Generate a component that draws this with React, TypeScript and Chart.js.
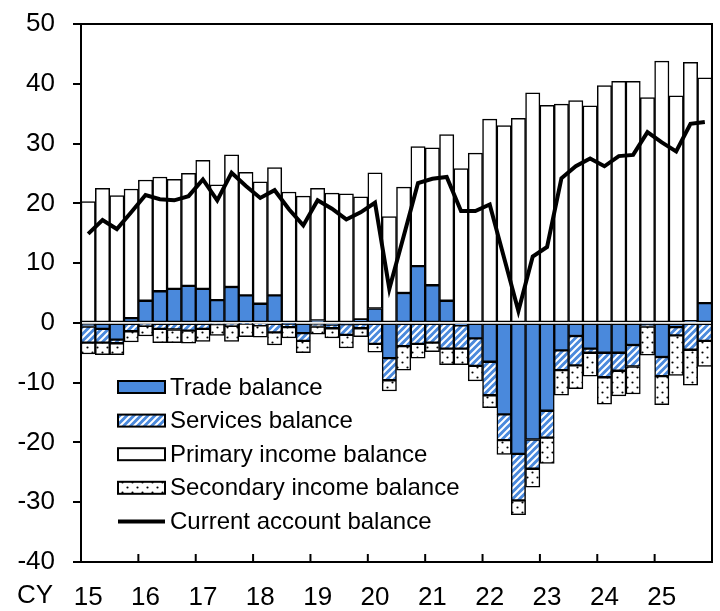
import { useEffect, useRef } from 'react';
import { Chart, registerables } from 'chart.js';

Chart.register(...registerables);

const years = ['15', '16', '17', '18', '19', '20', '21', '22', '23', '24', '25'];
const quarterLabels: string[] = years.flatMap((y) => [y, '', '', '']);

const tradeBalance = [-0.6, -1.0, -2.8, 0.8, 3.7, 5.3, 5.7, 6.2, 5.7, 3.8, 6.0, 4.6, 3.2, 4.6, -0.1, -1.7, 0.4, -0.3, -0.2, 0.6, 2.4, -5.9, 5.0, 9.5, 6.3, 3.7, -0.4, -2.6, -6.5, -15.3, -21.9, -19.5, -14.7, -4.6, -2.2, -4.3, -5.0, -5.0, -3.7, -0.2, -5.7, -0.7, 0.3, 3.3];
const servicesBalance = [-2.7, -2.3, -0.6, -1.4, -0.5, -1.0, -1.1, -1.3, -1.0, -0.2, -0.5, -0.1, -0.4, -1.6, -0.6, -1.3, -0.6, -0.6, -1.8, -0.9, -3.5, -3.7, -3.9, -3.5, -3.3, -4.3, -3.9, -4.6, -5.6, -4.3, -7.8, -4.9, -4.5, -3.3, -4.9, -0.7, -4.1, -3.0, -3.6, -0.4, -3.2, -1.4, -4.5, -3.0];
const primaryIncome = [20.3, 22.5, 21.3, 21.6, 20.2, 19.1, 18.3, 18.8, 21.5, 19.3, 22.1, 20.6, 20.4, 21.4, 21.9, 21.2, 22.1, 21.7, 21.6, 20.5, 22.7, 17.8, 17.7, 20.0, 23.0, 27.8, 25.8, 28.4, 34.1, 33.0, 34.2, 38.5, 36.4, 36.6, 37.2, 36.3, 39.7, 40.4, 40.4, 37.7, 43.8, 38.0, 43.3, 37.7];
const secondaryIncome = [-1.9, -2.0, -1.9, -1.8, -1.7, -2.3, -2.2, -2.1, -2.1, -1.9, -2.6, -2.2, -2.0, -2.1, -1.8, -2.0, -1.3, -1.6, -2.2, -1.4, -1.4, -1.8, -4.0, -2.4, -1.5, -2.7, -2.7, -2.5, -2.1, -2.4, -2.4, -3.1, -4.3, -4.2, -3.9, -3.9, -4.5, -4.2, -4.6, -4.8, -4.8, -6.7, -5.9, -4.3];
const currentAccount = [14.9, 17.2, 15.7, 18.5, 21.4, 20.7, 20.5, 21.2, 24.0, 20.5, 25.1, 22.9, 20.9, 22.2, 19.0, 16.3, 20.5, 19.1, 17.3, 18.5, 20.1, 5.7, 14.5, 23.4, 24.1, 24.4, 18.7, 18.7, 19.8, 10.9, 2.0, 11.1, 12.7, 24.2, 26.2, 27.5, 26.2, 27.9, 28.1, 31.9, 30.2, 28.7, 33.3, 33.6];

const seriesNames = ['Trade balance', 'Services balance', 'Primary income balance', 'Secondary income balance', 'Current account balance'];

const BLUE = '#4A89DC';
const FONT = '"Liberation Sans", Arial, sans-serif';

function makeHatch(): CanvasPattern | string {
  const c = document.createElement('canvas');
  const s = 7;
  c.width = s;
  c.height = s;
  const g = c.getContext('2d');
  if (!g) return BLUE;
  g.fillStyle = BLUE;
  g.fillRect(0, 0, s, s);
  g.strokeStyle = '#ffffff';
  g.lineWidth = 2;
  g.beginPath();
  g.moveTo(-1, s + 1);
  g.lineTo(s + 1, -1);
  g.moveTo(-1, 1);
  g.lineTo(1, -1);
  g.moveTo(s - 1, s + 1);
  g.lineTo(s + 1, s - 1);
  g.stroke();
  return g.createPattern(c, 'repeat') || BLUE;
}

function makeDots(): CanvasPattern | string {
  const c = document.createElement('canvas');
  const s = 10;
  c.width = s;
  c.height = s;
  const g = c.getContext('2d');
  if (!g) return '#fff';
  g.fillStyle = '#ffffff';
  g.fillRect(0, 0, s, s);
  g.fillStyle = '#000000';
  g.beginPath();
  g.arc(2.5, 2.5, 1.1, 0, Math.PI * 2);
  g.arc(7.5, 7.5, 1.1, 0, Math.PI * 2);
  g.fill();
  return g.createPattern(c, 'repeat') || '#fff';
}

const decorPlugin = {
  id: 'decor',
  afterDraw(chart: any) {
    const { ctx, chartArea: a, scales } = chart;
    ctx.save();
    ctx.strokeStyle = '#000';
    ctx.lineWidth = 2;
    ctx.strokeRect(a.left, a.top, a.right - a.left, a.bottom - a.top);
    const xs = scales.x;
    for (let i = 4; i < quarterLabels.length; i += 4) {
      const px = (xs.getPixelForValue(i - 1) + xs.getPixelForValue(i)) / 2;
      ctx.beginPath();
      ctx.moveTo(px, a.bottom);
      ctx.lineTo(px, a.bottom - 8);
      ctx.stroke();
    }
    ctx.fillStyle = '#000';
    ctx.font = `26px ${FONT}`;
    ctx.textBaseline = 'middle';
    ctx.textAlign = 'left';
    ctx.fillText('CY', 17, 596);

    // legend inside chart area
    const ds = chart.data.datasets;
    const bx = a.left + 37;
    const bw = 47;
    const bh = 12;
    const y0 = a.top + 363;
    const step = 33.6;
    ctx.font = `24px ${FONT}`;
    for (let k = 0; k < 5; k++) {
      const cy = y0 + k * step;
      if (k < 4) {
        ctx.fillStyle = ds[k].backgroundColor;
        ctx.fillRect(bx, cy - bh / 2, bw, bh);
        ctx.lineWidth = 2;
        ctx.strokeStyle = '#000';
        ctx.strokeRect(bx, cy - bh / 2, bw, bh);
      } else {
        ctx.lineWidth = 4;
        ctx.strokeStyle = '#000';
        ctx.beginPath();
        ctx.moveTo(bx, cy);
        ctx.lineTo(bx + bw, cy);
        ctx.stroke();
      }
      ctx.fillStyle = '#000';
      ctx.fillText(seriesNames[k], bx + bw + 5, cy + 1);
    }
    ctx.restore();
  },
};

export default function App() {
  const ref = useRef<HTMLCanvasElement | null>(null);
  useEffect(() => {
    if (!ref.current) return;
    const hatch = makeHatch();
    const dots = makeDots();
    const barCommon = {
      type: 'bar' as const,
      borderColor: '#000',
      borderWidth: 1.5,
      borderSkipped: false,
      barPercentage: 1,
      categoryPercentage: 1,
      stack: 'bars',
      order: 1,
    };
    const chart = new Chart(ref.current, {
      type: 'bar',
      data: {
        labels: quarterLabels,
        datasets: [
          { ...barCommon, label: seriesNames[0], data: tradeBalance, backgroundColor: BLUE },
          { ...barCommon, label: seriesNames[1], data: servicesBalance, backgroundColor: hatch as any },
          { ...barCommon, label: seriesNames[2], data: primaryIncome, backgroundColor: '#ffffff' },
          { ...barCommon, label: seriesNames[3], data: secondaryIncome, backgroundColor: dots as any },
          {
            type: 'line' as const,
            label: seriesNames[4],
            data: currentAccount,
            borderColor: '#000',
            backgroundColor: '#000',
            borderWidth: 4,
            pointRadius: 0,
            tension: 0,
            stack: 'line',
            order: 0,
          } as any,
        ],
      },
      options: {
        responsive: false,
        animation: false,
        devicePixelRatio: 1,
        layout: { padding: { top: 24, right: 8, left: 0, bottom: 0 } },
        plugins: { legend: { display: false }, tooltip: { enabled: false } },
        scales: {
          x: {
            stacked: true,
            offset: true,
            grid: { display: false },
            border: { display: true, color: '#000', width: 2 },
            ticks: {
              autoSkip: false,
              maxRotation: 0,
              minRotation: 0,
              padding: 12,
              color: '#000',
              font: { size: 26, family: FONT },
            },
            afterFit: (s: any) => {
              s.height = 49;
              s.paddingLeft = 0;
              s.paddingRight = 0;
            },
          },
          y: {
            stacked: true,
            min: -40,
            max: 50,
            ticks: {
              stepSize: 10,
              padding: 18,
              color: '#000',
              font: { size: 26, family: FONT },
            },
            grid: { drawOnChartArea: false, drawTicks: true, tickLength: 8, color: '#000', lineWidth: 2 },
            border: { display: true, color: '#000', width: 2 },
            afterFit: (s: any) => {
              s.width = 81;
              s.paddingTop = 0;
              s.paddingBottom = 0;
            },
          },
        },
      },
      plugins: [decorPlugin],
    });
    return () => chart.destroy();
  }, []);
  return (
    <div style={{ position: 'absolute', left: 0, top: 0, width: 720, height: 611 }}>
      <canvas ref={ref} width={720} height={611} style={{ width: 720, height: 611 }} />
    </div>
  );
}
